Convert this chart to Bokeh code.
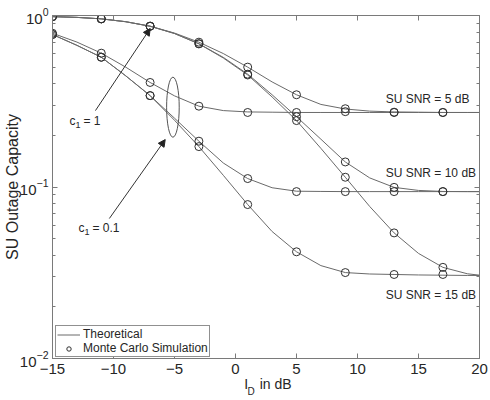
import numpy as np
from bokeh.plotting import figure
from bokeh.models import (Range1d, LinearAxis, LogAxis, Label, Arrow, NormalHead,
                          Legend, LegendItem, FixedTicker, CustomJSTickFormatter)
from bokeh.embed import file_html
from bokeh.resources import INLINE

# ---------------- data ----------------
x_theory = [-15, -13, -11, -9, -7, -5, -3, -1, 1, 3, 5, 7, 9, 11, 13, 15, 17, 19, 20]
th_snr5_c1 = [0.985, 0.975, 0.956, 0.92, 0.866, 0.79, 0.699, 0.60, 0.50, 0.41, 0.345, 0.303,
              0.285, 0.277, 0.274, 0.273, 0.272, 0.272, 0.272]
th_snr10_c1 = [0.985, 0.975, 0.956, 0.92, 0.866, 0.785, 0.684, 0.57, 0.455, 0.345, 0.257, 0.19,
               0.140, 0.113, 0.0995, 0.0955, 0.0942, 0.094, 0.094]
th_snr15_c1 = [0.985, 0.975, 0.956, 0.92, 0.866, 0.785, 0.684, 0.565, 0.45, 0.335, 0.244, 0.168,
               0.114, 0.077, 0.054, 0.041, 0.034, 0.0312, 0.0306]
th_snr5_c01 = [0.788, 0.70, 0.603, 0.50, 0.407, 0.34, 0.296, 0.279, 0.274, 0.273, 0.272, 0.272,
               0.272, 0.272, 0.272, 0.272, 0.272, 0.272, 0.272]
th_snr10_c01 = [0.775, 0.67, 0.571, 0.445, 0.341, 0.252, 0.185, 0.138, 0.112, 0.099, 0.0945, 0.0942,
                0.094, 0.094, 0.094, 0.094, 0.094, 0.094, 0.094]
th_snr15_c01 = [0.775, 0.67, 0.571, 0.445, 0.341, 0.245, 0.172, 0.117, 0.079, 0.055, 0.0419, 0.0348,
                0.0317, 0.0311, 0.0309, 0.0307, 0.0306, 0.0305, 0.0305]

x_sim = [-15, -11, -7, -3, 1, 5, 9, 13, 17]
sim_snr5_c1 = [0.985, 0.956, 0.866, 0.699, 0.50, 0.345, 0.286, 0.273, 0.272]
sim_snr10_c1 = [0.985, 0.956, 0.866, 0.684, 0.455, 0.257, 0.140, 0.0995, 0.094]
sim_snr15_c1 = [0.985, 0.956, 0.866, 0.684, 0.45, 0.244, 0.114, 0.054, 0.034]
sim_snr5_c01 = [0.788, 0.603, 0.407, 0.296, 0.272, 0.272, 0.275, 0.272, 0.272]
sim_snr10_c01 = [0.775, 0.571, 0.341, 0.185, 0.112, 0.094, 0.094, 0.094, 0.094]
sim_snr15_c01 = [0.775, 0.571, 0.341, 0.172, 0.079, 0.0419, 0.0317, 0.0309, 0.0309]

x_ticks = [-15, -10, -5, 0, 5, 10, 15, 20]
y_major = [0.01, 0.1, 1]
y_minor = [0.02, 0.03, 0.04, 0.05, 0.06, 0.07, 0.08, 0.09,
           0.2, 0.3, 0.4, 0.5, 0.6, 0.7, 0.8, 0.9]

FONT = "Liberation Sans"
AX = "#7a7a7a"
TXT = "#262626"
LINE = "#6a6a6a"
NB = "\u00a0"

p = figure(width=490, height=400, y_axis_type="log",
           x_range=Range1d(-15, 20), y_range=Range1d(0.01, 1),
           output_backend="svg", toolbar_location=None,
           min_border_left=51, min_border_right=11, min_border_top=15, min_border_bottom=42)
p.grid.visible = False
p.outline_line_color = AX
p.background_fill_color = "white"

xa = p.xaxis[0]
ya = p.yaxis[0]
for ax in [xa, ya]:
    ax.axis_line_color = AX
    ax.major_tick_line_color = AX
    ax.minor_tick_line_color = AX
    ax.major_tick_in = 5
    ax.major_tick_out = 0
    ax.minor_tick_in = 3
    ax.minor_tick_out = 0
    ax.major_label_text_font = FONT
    ax.major_label_text_font_size = "15px"
    ax.major_label_text_color = TXT
    ax.axis_label_text_font = FONT
    ax.axis_label_text_font_style = "normal"
    ax.axis_label_text_color = TXT
xa.ticker = FixedTicker(ticks=x_ticks)
xa.major_label_standoff = 5
xa.axis_label = NB + "I" + NB * 3 + "in" + NB + "dB"
xa.axis_label_text_font_size = "14px"
xa.axis_label_standoff = -1

ya.ticker = FixedTicker(ticks=y_major, minor_ticks=y_minor)
ya.major_label_standoff = 4
ya.axis_label = "SU Outage Capacity"
ya.axis_label_text_font_size = "16px"
ya.axis_label_standoff = -4

# subscript "D" of the x-axis label, drawn as a tick label of a bare extra axis
sub_axis = LinearAxis(ticker=FixedTicker(ticks=[1.27]), major_label_overrides={1.27: "D"},
                      major_label_text_font=FONT, major_label_text_font_size="10px",
                      major_label_text_color=TXT, major_label_standoff=-9,
                      major_tick_in=0, major_tick_out=0, axis_line_color=None,
                      major_tick_line_color=None, minor_tick_line_color=None)
p.add_layout(sub_axis, "below")

blank = CustomJSTickFormatter(code="return ''")
top = LinearAxis(ticker=FixedTicker(ticks=x_ticks), formatter=blank,
                 major_label_standoff=0, major_tick_in=5, major_tick_out=0,
                 axis_line_color=AX, major_tick_line_color=AX)
p.add_layout(top, "above")
right = LogAxis(ticker=FixedTicker(ticks=y_major, minor_ticks=y_minor), formatter=blank,
                major_label_standoff=0,
                major_tick_in=5, major_tick_out=0, minor_tick_in=3, minor_tick_out=0,
                axis_line_color=AX, major_tick_line_color=AX, minor_tick_line_color=AX)
p.add_layout(right, "right")

# curves
th_series = [th_snr5_c1, th_snr10_c1, th_snr15_c1, th_snr5_c01, th_snr10_c01, th_snr15_c01]
sim_series = [sim_snr5_c1, sim_snr10_c1, sim_snr15_c1, sim_snr5_c01, sim_snr10_c01, sim_snr15_c01]
line_rs = []
for ys in th_series:
    line_rs.append(p.line(x_theory, ys, line_color=LINE, line_width=1))
sc_rs = []
for ys in sim_series:
    sc_rs.append(p.scatter(x_sim, ys, marker="circle", size=8, fill_color=None,
                           line_color="#303030", line_width=1))

# ellipse annotation
p.ellipse(x=[-5.13], y=[0.292], width=12.6, height=60, width_units="screen",
          height_units="screen", fill_color=None, line_color="#555555", line_width=1)

# arrows
p.add_layout(Arrow(end=NormalHead(size=7, fill_color="#222", line_color="#222"),
                   x_start=-11.48, y_start=0.279, x_end=-6.99, y_end=0.84,
                   line_color="#333", line_width=1))
p.add_layout(Arrow(end=NormalHead(size=7, fill_color="#222", line_color="#222"),
                   x_start=-10.34, y_start=0.0655, x_end=-5.76, y_end=0.189,
                   line_color="#333", line_width=1))

def add_c1(x, y, val):
    p.add_layout(Label(x=x, y=y, text="c", text_font=FONT, text_font_size="12px",
                       text_color=TXT, text_baseline="middle"))
    p.add_layout(Label(x=x, y=y, x_offset=6, y_offset=-4, text="1", text_font=FONT,
                       text_font_size="9px", text_color=TXT, text_baseline="middle"))
    p.add_layout(Label(x=x, y=y, x_offset=14, text="=" + NB + val, text_font=FONT,
                       text_font_size="12px", text_color=TXT, text_baseline="middle"))

add_c1(-13.61, 0.242, "1")
add_c1(-12.87, 0.058, "0.1")

for txt, yy in [("SU SNR = 5 dB", 0.328), ("SU SNR = 10 dB", 0.12), ("SU SNR = 15 dB", 0.0233)]:
    p.add_layout(Label(x=12.31, y=yy, text=txt, text_font=FONT, text_font_size="12px",
                       text_color=TXT, text_baseline="middle"))

legend = Legend(items=[LegendItem(label="Theoretical", renderers=[line_rs[0]]),
                       LegendItem(label="Monte Carlo Simulation", renderers=[sc_rs[0]])],
                location=(3, 1), label_text_font=FONT, label_text_font_size="12px",
                label_text_line_height=0.9,
                label_text_color=TXT, glyph_width=23, glyph_height=11, label_height=11,
                spacing=0, padding=1, margin=0, label_standoff=3,
                border_line_color="#222", border_line_width=1, background_fill_alpha=1)
p.add_layout(legend)

open("out.html", "w").write(file_html(p, INLINE))
